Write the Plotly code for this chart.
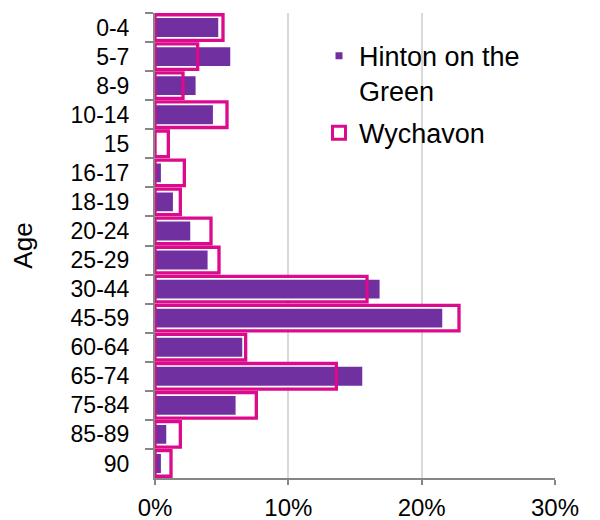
import plotly.graph_objects as go

ages = ["0-4", "5-7", "8-9", "10-14", "15", "16-17", "18-19", "20-24", "25-29",
        "30-44", "45-59", "60-64", "65-74", "75-84", "85-89", "90"]
hinton = [4.8, 5.7, 3.1, 4.4, 0.0, 0.5, 1.4, 2.7, 4.0, 16.9, 21.6, 6.6, 15.6, 6.1, 0.9, 0.5]
wychavon = [5.1, 3.2, 2.1, 5.4, 1.0, 2.2, 1.9, 4.2, 4.8, 15.9, 22.8, 6.8, 13.6, 7.6, 1.9, 1.2]

PURPLE = "#7030A0"
PINK = "#DC0A8C"
FONT = "Liberation Sans, Arial, sans-serif"

fig = go.Figure()
fig.add_trace(go.Bar(
    y=ages, x=hinton, orientation="h", name="Hinton on the<br>Green",
    width=0.7, marker=dict(color=PURPLE, line=dict(color="white", width=1.5)),
    showlegend=False,
))
fig.add_trace(go.Bar(
    y=ages, x=wychavon, orientation="h", name="Wychavon",
    width=0.88, marker=dict(color="rgba(0,0,0,0)", line=dict(color=PINK, width=3.3)),
    showlegend=False,
))
# legend entries
fig.add_trace(go.Scatter(
    x=[None], y=[None], mode="markers", name="Hinton on the<br>Green",
    legendgroup="a",
    marker=dict(symbol="square", size=7, color=PURPLE),
))
fig.add_trace(go.Scatter(
    x=[None], y=[None], mode="markers", name="Wychavon",
    legendgroup="b",
    marker=dict(symbol="square-open", size=13, color=PINK, line=dict(width=3, color=PINK)),
))

# page body has an 8px default margin, so the figure is sized/shifted to compensate
fig.update_layout(
    width=592, height=512,
    margin=dict(l=146.5, r=44.5, t=5, b=42),
    paper_bgcolor="white", plot_bgcolor="white",
    barmode="overlay",
    font=dict(family=FONT, color="black"),
    legend=dict(
        x=0.41, y=0.96, xanchor="left", yanchor="top",
        font=dict(size=27, family=FONT, color="black"),
        bgcolor="rgba(0,0,0,0)", valign="top",
        tracegroupgap=4, itemsizing="trace",
    ),
    showlegend=True,
)
fig.update_xaxes(
    range=[0, 30], dtick=10, ticksuffix="%",
    showgrid=True, gridcolor="#D9D9D9", gridwidth=1.5,
    showline=True, linecolor="#868686", linewidth=2,
    ticks="outside", ticklen=5, tickcolor="#868686", tickwidth=1.5,
    tickfont=dict(size=24, family=FONT, color="black"),
    ticklabelstandoff=2,
    zeroline=False, automargin=False,
)
fig.update_yaxes(
    type="category", categoryorder="array", categoryarray=ages,
    autorange="reversed",
    showgrid=False, showline=True, linecolor="#868686", linewidth=2,
    ticks="outside", ticklen=8, tickcolor="#868686", tickwidth=1.5,
    tickson="boundaries",
    tickfont=dict(size=23, family=FONT, color="black"),
    ticklabelstandoff=19,
    title=dict(text="Age", font=dict(size=26, family=FONT, color="black"), standoff=34),
    zeroline=False, automargin=False,
)

fig.write_html("out.html")
